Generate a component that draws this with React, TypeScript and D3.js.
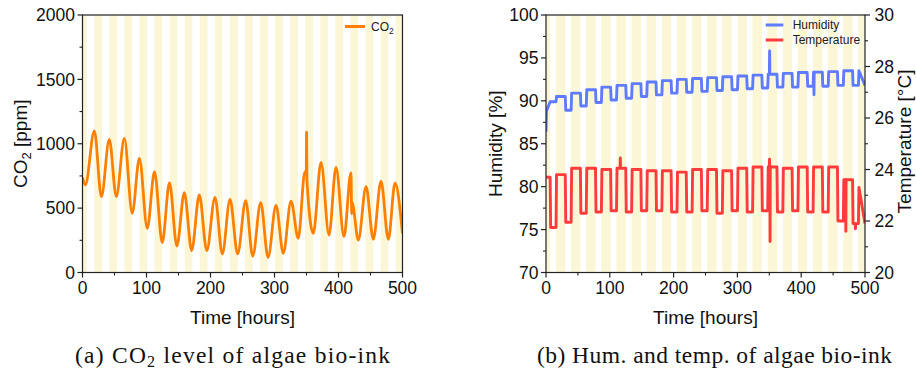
import React from "react";
import * as d3 from "d3";

// ---------- DATA ----------
// CO2 (ppm) vs time (hours)
const co2Time = [0, 4.5, 18.5, 29.5, 41.9, 52.8, 65.4, 77.7, 88.9, 101.2, 112.5, 124.6, 135.9, 147.5, 159.1, 170.6, 182.5, 194.2, 207, 218.5, 230.5, 242.4, 255, 266, 278.4, 290, 302.3, 313.8, 325.8, 337.2, 347.5, 349.6, 350.1, 350.7, 360.6, 372.7, 385.2, 396.1, 408.6, 419.5, 420.6, 421.2, 431, 443, 454.4, 466.4, 477.9, 488.3, 500];
const co2Value = [740, 680, 1100, 589, 1034, 589, 1042, 460, 887, 343, 783, 232, 698, 206, 620, 170, 602, 170, 584, 144, 568, 144, 558, 128, 542, 118, 522, 149, 555, 265, 783, 760, 1090, 720, 304, 856, 291, 817, 278, 775, 455, 545, 252, 666, 258, 710, 258, 695, 304];

// light (yellow) periods, start hour
const leftLightStart = [-5.2, 18.4, 42, 65.5, 89.1, 112.6, 136.2, 159.7, 183.3, 206.8, 230.4, 253.9, 277.5, 301, 324.6, 348.1, 371.7, 395.2, 418.8, 442.3, 465.9, 489.4];
const leftLightHours = 12;
const rightLightStart = [-8, 15.7, 39.4, 63.1, 86.8, 110.5, 134.2, 157.9, 181.6, 205.3, 229, 252.7, 276.4, 300.1, 323.8, 347.5, 371.2, 394.9, 418.6, 442.3, 466, 489.7];
const rightLightHours = 14.5;

// Humidity (%) plateau levels: during each light period and the dark period after it
const humLight = [89.9, 90.5, 90.9, 91.3, 91.6, 91.8, 92.0, 92.2, 92.35, 92.5, 92.6, 92.7, 92.8, 92.9, 93.0, 93.1, 93.2, 93.3, 93.35, 93.4, 93.5, 93.5];
const humDark = [89.9, 88.9, 89.4, 89.8, 90.1, 90.3, 90.5, 90.7, 90.9, 91.0, 91.1, 91.2, 91.3, 91.4, 91.5, 91.6, 91.6, 91.7, 91.7, 91.8, 91.8, 91.8];
const humStartTime = [0, 0.7];
const humStartValue = [86.4, 88.8];
const humSpikeTime = [350.5, 420];
const humSpikeValue = [95.8, 90.7];

// Temperature (°C) plateau levels
const tempLight = [23.7, 23.8, 24.05, 24.05, 24.0, 24.05, 24.0, 23.95, 23.95, 23.9, 24.0, 24.0, 23.95, 24.05, 24.1, 24.1, 24.05, 24.1, 24.1, 24.1, 23.6, 23.3];
const tempDark = [21.75, 21.95, 22.3, 22.35, 22.4, 22.35, 22.4, 22.4, 22.35, 22.35, 22.4, 22.3, 22.4, 22.35, 22.4, 22.35, 22.4, 22.35, 22.35, 22.0, 21.9, 21.9];
const tempSpikeTime = [116.5, 350.3, 351.2, 470, 485];
const tempSpikeValue = [24.45, 24.4, 21.2, 21.6, 21.7];

const xTicks = [0, 100, 200, 300, 400, 500];
const co2Ticks = [0, 500, 1000, 1500, 2000];
const humTicks = [70, 75, 80, 85, 90, 95, 100];
const tempTicks = [20, 22, 24, 26, 28, 30];

// ---------- STYLE ----------
const STRIPE = "#FAF6D6";
const ORANGE = "#FF8000";
const BLUE = "#5F7BFF";
const RED = "#FF3B3B";
const AX = "#222";
const SANS = "'Liberation Sans', Arial, sans-serif";
const SERIF = "'Liberation Serif', 'Times New Roman', serif";

const TOP = 15, BOTTOM = 272.5;

function buildSteps(starts: number[], dur: number, light: number[], dark: number[], spikeT: number[], spikeV: number[], leadT: number[], leadV: number[]) {
  const tr = 0.8;
  const pts: [number, number][] = [];
  leadT.forEach((t, i) => pts.push([t, leadV[i]]));
  const lastLead = leadT.length ? leadT[leadT.length - 1] : -100;
  starts.forEach((s, k) => {
    const e = s + dur;
    if (k > 0) pts.push([s + tr, light[k]]);
    pts.push([e, light[k]]);
    const next = k + 1 < starts.length ? starts[k + 1] : 500;
    pts.push([e + tr, dark[k]]);
    pts.push([next, dark[k]]);
  });
  const p = pts.filter((d, i) => i < leadT.length || d[0] > lastLead);
  const valueAt = (t: number) => {
    for (let i = 0; i < p.length - 1; i++) {
      if (t >= p[i][0] && t <= p[i + 1][0]) {
        const f = (t - p[i][0]) / (p[i + 1][0] - p[i][0] || 1);
        return p[i][1] + f * (p[i + 1][1] - p[i][1]);
      }
    }
    return p[p.length - 1][1];
  };
  const extra: [number, number][] = [];
  spikeT.forEach((t, i) => {
    extra.push([t - 0.35, valueAt(t - 0.35)]);
    extra.push([t, spikeV[i]]);
    extra.push([t + 0.35, valueAt(t + 0.35)]);
  });
  const all = p.concat(extra).sort((a, b) => a[0] - b[0]);
  return all.filter((d) => d[0] <= 500);
}

function Axes({ x, yl, yr, ylTicks, ylMinor, yrTicks, yrMinor, x0, x1 }: any) {
  const major = 5, minor = 3;
  const xMinor = [50, 150, 250, 350, 450];
  return (
    <g>
      <rect x={x0} y={TOP} width={x1 - x0} height={BOTTOM - TOP} fill="none" stroke={AX} strokeWidth={1.2} />
      {xTicks.map((t) => (
        <g key={"xt" + t}>
          <line x1={x(t)} x2={x(t)} y1={BOTTOM} y2={BOTTOM + major} stroke={AX} strokeWidth={1.2} />
          <text x={x(t)} y={BOTTOM + 21} textAnchor="middle" fontFamily={SANS} fontSize={17.5} fill="#111">{t}</text>
        </g>
      ))}
      {xMinor.map((t) => (
        <line key={"xm" + t} x1={x(t)} x2={x(t)} y1={BOTTOM} y2={BOTTOM + minor} stroke={AX} strokeWidth={1.1} />
      ))}
      {ylTicks.map((t: number) => (
        <g key={"yl" + t}>
          <line x1={x0 - major} x2={x0} y1={yl(t)} y2={yl(t)} stroke={AX} strokeWidth={1.2} />
          <text x={x0 - 7.5} y={yl(t)} dy="0.36em" textAnchor="end" fontFamily={SANS} fontSize={17.5} fill="#111">{t}</text>
        </g>
      ))}
      {ylMinor.map((t: number) => (
        <line key={"ylm" + t} x1={x0 - minor} x2={x0} y1={yl(t)} y2={yl(t)} stroke={AX} strokeWidth={1.1} />
      ))}
      {yr && yrTicks.map((t: number) => (
        <g key={"yr" + t}>
          <line x1={x1} x2={x1 + major} y1={yr(t)} y2={yr(t)} stroke={AX} strokeWidth={1.2} />
          <text x={x1 + 9.5} y={yr(t)} dy="0.36em" textAnchor="start" fontFamily={SANS} fontSize={17.5} fill="#111">{t}</text>
        </g>
      ))}
      {yr && yrMinor.map((t: number) => (
        <line key={"yrm" + t} x1={x1} x2={x1 + minor} y1={yr(t)} y2={yr(t)} stroke={AX} strokeWidth={1.1} />
      ))}
    </g>
  );
}

export default function App() {
  const xL = d3.scaleLinear().domain([0, 500]).range([82.5, 402.5]);
  const yL = d3.scaleLinear().domain([0, 2000]).range([BOTTOM, TOP]);
  const xR = d3.scaleLinear().domain([0, 500]).range([546, 865]);
  const yH = d3.scaleLinear().domain([70, 100]).range([BOTTOM, TOP]);
  const yT = d3.scaleLinear().domain([20, 30]).range([BOTTOM, TOP]);

  const co2Data = co2Time.map((t, i) => [t, co2Value[i]] as [number, number]);
  const co2Line = d3.line<[number, number]>().curve(d3.curveMonotoneX).x((d) => xL(d[0])).y((d) => yL(d[1]))(co2Data) || "";

  const humData = buildSteps(rightLightStart, rightLightHours, humLight, humDark, humSpikeTime, humSpikeValue, humStartTime, humStartValue);
  const tempData = buildSteps(rightLightStart, rightLightHours, tempLight, tempDark, tempSpikeTime, tempSpikeValue, [0], [23.7]);
  const humPath = d3.line<[number, number]>().x((d) => xR(d[0])).y((d) => yH(d[1]))(humData) || "";
  const tempPath = d3.line<[number, number]>().x((d) => xR(d[0])).y((d) => yT(d[1]))(tempData) || "";

  const stripes = (starts: number[], dur: number, x: any, key: string) =>
    starts.map((s, i) => {
      const a = Math.max(0, s), b = Math.min(500, s + dur);
      if (b <= a) return null;
      return <rect key={key + i} x={x(a)} y={TOP} width={x(b) - x(a)} height={BOTTOM - TOP} fill={STRIPE} />;
    });

  const co2Minor = [250, 750, 1250, 1750];
  const humMinor = [72.5, 77.5, 82.5, 87.5, 92.5, 97.5];
  const tempMinor = [21, 23, 25, 27, 29];

  return (
    <svg width={916} height={373} style={{ position: "absolute", left: 0, top: 0, background: "#fff" }}>
      <defs>
        <clipPath id="clipL"><rect x={82.5} y={TOP} width={320} height={BOTTOM - TOP} /></clipPath>
        <clipPath id="clipR"><rect x={546} y={TOP} width={319} height={BOTTOM - TOP} /></clipPath>
      </defs>
      {/* Left chart */}
      {stripes(leftLightStart, leftLightHours, xL, "sl")}
      <path d={co2Line} fill="none" stroke={ORANGE} strokeWidth={2.8} strokeLinejoin="round" clipPath="url(#clipL)" />
      <Axes x={xL} yl={yL} ylTicks={co2Ticks} ylMinor={co2Minor} x0={82.5} x1={402.5} />
      <line x1={345} x2={365} y1={26.5} y2={26.5} stroke={ORANGE} strokeWidth={3} />
      <text x={371} y={31} fontFamily={SANS} fontSize={12} fill="#222">CO<tspan dy={3} fontSize={8.5}>2</tspan></text>
      <text transform={`translate(27,143.75) rotate(-90)`} textAnchor="middle" fontFamily={SANS} fontSize={19} fill="#111">
        CO<tspan dy={4} fontSize={13}>2</tspan><tspan dy={-4}> [ppm]</tspan>
      </text>
      <text x={242.5} y={323.5} textAnchor="middle" fontFamily={SANS} fontSize={19} fill="#111">Time [hours]</text>
      <text x={232.5} y={362.5} textAnchor="middle" fontFamily={SERIF} fontSize={23.5} fill="#111" textLength={315} lengthAdjust="spacing">
        (a) CO<tspan dy={4} fontSize={16}>2</tspan><tspan dy={-4}> level of algae bio-ink</tspan>
      </text>

      {/* Right chart */}
      {stripes(rightLightStart, rightLightHours, xR, "sr")}
      <path d={humPath} fill="none" stroke={BLUE} strokeWidth={2.9} strokeLinejoin="round" clipPath="url(#clipR)" />
      <path d={tempPath} fill="none" stroke={RED} strokeWidth={2.9} strokeLinejoin="round" clipPath="url(#clipR)" />
      <Axes x={xR} yl={yH} ylTicks={humTicks} ylMinor={humMinor} yr={yT} yrTicks={tempTicks} yrMinor={tempMinor} x0={546} x1={865} />
      <line x1={765.7} x2={783.3} y1={25} y2={25} stroke={BLUE} strokeWidth={3} />
      <text x={792.7} y={29.3} fontFamily={SANS} fontSize={12} fill="#222">Humidity</text>
      <line x1={765.7} x2={783.3} y1={40} y2={40} stroke={RED} strokeWidth={3} />
      <text x={792.7} y={44.3} fontFamily={SANS} fontSize={12} fill="#222">Temperature</text>
      <text transform={`translate(501.5,143.75) rotate(-90)`} textAnchor="middle" fontFamily={SANS} fontSize={19} fill="#111">Humidity [%]</text>
      <text transform={`translate(911,141.5) rotate(-90)`} textAnchor="middle" fontFamily={SANS} fontSize={19} fill="#111">Temperature [°C]</text>
      <text x={705.5} y={323.5} textAnchor="middle" fontFamily={SANS} fontSize={19} fill="#111">Time [hours]</text>
      <text x={714.5} y={362.5} textAnchor="middle" fontFamily={SERIF} fontSize={23.5} fill="#111" textLength={355} lengthAdjust="spacing">
        (b) Hum. and temp. of algae bio-ink
      </text>
    </svg>
  );
}
